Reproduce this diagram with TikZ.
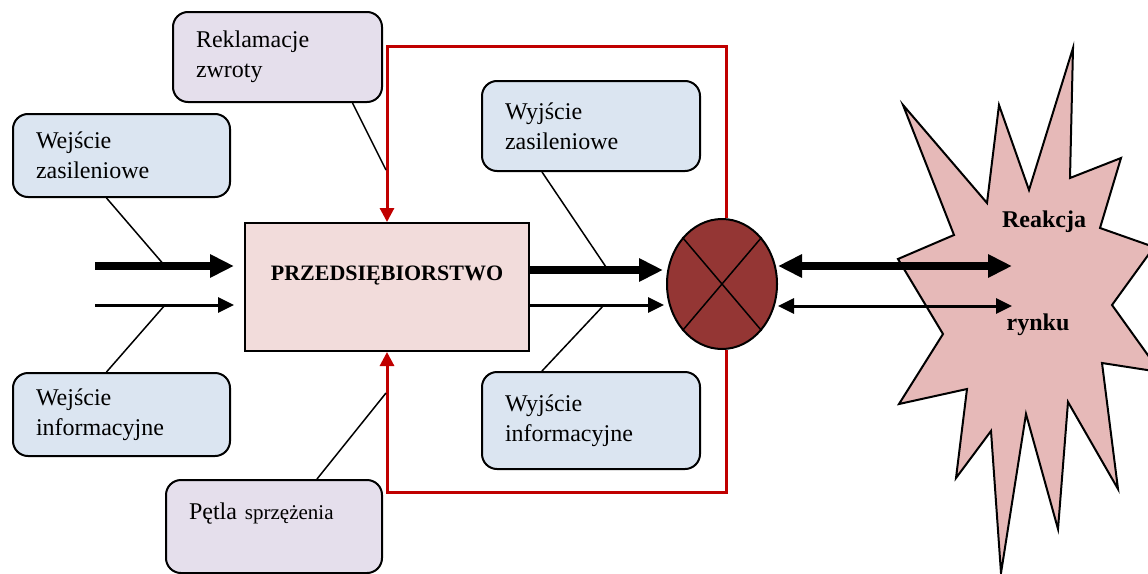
\documentclass[tikz,border=0pt]{standalone}
\usepackage{fontspec}
\setmainfont{Liberation Serif}
\usetikzlibrary{arrows.meta}
\usetikzlibrary{shapes.geometric}

\definecolor{boxblue}{HTML}{DBE5F1}
\definecolor{boxlilac}{HTML}{E5DFEC}
\definecolor{firmpink}{HTML}{F2DCDB}
\definecolor{mixred}{HTML}{943634}
\definecolor{burstpink}{HTML}{E6B9B8}
\definecolor{loopred}{HTML}{C00000}

\tikzset{
        box/.style={draw=black, line width=2pt, rounded corners=15pt, anchor=north west,
                align=left, inner xsep=23pt, inner ysep=0pt, font=\fontsize{24}{30}\selectfont},
        bluebox/.style={box, fill=boxblue},
        lilacbox/.style={box, fill=boxlilac},
        firmbox/.style={draw=black, line width=2pt, fill=firmpink, anchor=north west, inner sep=0pt},
        firmlabel/.style={font=\fontsize{22}{26}\selectfont\bfseries, inner sep=0pt},
        mixer/.style={ellipse, draw=black, line width=2pt, fill=mixred, inner sep=0pt,
                minimum width=110pt, minimum height=130pt},
        cross/.style={line width=1.5pt},
        leader/.style={line width=1.5pt},
        feedback/.style={draw=loopred, line width=3pt, -{Triangle[length=14pt,width=14pt]}},
        thickarr/.style={line width=7.5pt, -{Triangle[length=24pt,width=22pt]}},
        thinarr/.style={line width=3pt, -{Triangle[length=16pt,width=15pt]}},
        thickdbl/.style={line width=7.5pt, {Triangle[length=24pt,width=22pt]}-{Triangle[length=24pt,width=22pt]}},
        thindbl/.style={line width=3pt, {Triangle[length=16pt,width=15pt]}-{Triangle[length=16pt,width=15pt]}},
        burst/.style={draw=black, line width=2pt, fill=burstpink, line join=miter},
        marketlabel/.style={font=\fontsize{24}{28}\selectfont\bfseries, inner sep=0pt}
}

\begin{document}
\begin{tikzpicture}[x=1pt,y=-1pt]

            \useasboundingbox (0,0) rectangle (1148,573);

            % text boxes
            \node[lilacbox, text width=163pt, minimum height=90pt] (rekl) at (172,11) {Reklamacje\\zwroty};
            \node[bluebox, text width=171pt, minimum height=83pt] (wz) at (12,113) {Wejście\\zasileniowe};
            \node[bluebox, text width=171pt, minimum height=83pt] (wi) at (12,372) {Wejście\\informacyjne};
            \node[lilacbox, text width=170pt, minimum height=93pt] (petla) at (165,479)
                    {Pętla {\fontsize{21}{30}\selectfont sprzężenia}\\\mbox{}};
            \node[bluebox, text width=172pt, minimum height=90pt] (wyz) at (481,80) {Wyjście\\zasileniowe};
            \node[bluebox, text width=172pt, minimum height=97pt] (wyi) at (481,371) {Wyjście\\informacyjne};

            \node[firmbox, minimum width=284pt, minimum height=128pt] (firm) at (244,222) {};
            \node[firmlabel] (firmtxt) at ([yshift=11pt]firm.center) {PRZEDSIĘBIORSTWO};

            \node[mixer] (mix) at (722,284) {};
            \draw[cross] (mix.north west) -- (mix.south east);
            \draw[cross] (mix.north east) -- (mix.south west);

            % feedback loop
            \draw[feedback] ([xshift=4pt]mix.north) -- ++(0,-172) -| (firm.north);
            \draw[feedback] ([xshift=4pt]mix.south) -- ++(0,142) -| (firm.south);

            % market
            \draw[burst] (903,105) -- (987,203) -- (999,105) -- (1029,190) -- (1073,48)
                    -- (1070,178) -- (1121,158) -- (1100,228) -- (1154,247) -- (1112,305)
                    -- (1160,372) -- (1102,363) -- (1118,489) -- (1068,402) -- (1058,529)
                    -- (1026,414) -- (1001,573) -- (991,431) -- (956,478) -- (967,389)
                    -- (899,404) -- (943,334) -- (898,259) -- (954,235) -- cycle;
            \node[marketlabel] (reak) at (1044,222) {Reakcja};
            \node[marketlabel] (rynek) at (1038,325) {rynku};

            % flows
            \coordinate (inP) at (95,266);
            \coordinate (inI) at (95,305);
            \coordinate (jwz) at (165,266);
            \coordinate (jwi) at (165,305);
            \coordinate (jyz) at (608,270);
            \coordinate (jyi) at (604,305);
            \coordinate (jrekl) at (386,170);
            \coordinate (jpetla) at (386,393);
            \coordinate (outP) at (1012,266);
            \coordinate (outI) at (1012,306);

            \draw[thickarr, shorten >=10pt] (inP) -- (inP -| firm.west);
            \draw[thinarr, shorten >=10pt] (inI) -- (inI -| firm.west);
            \draw[thickarr, shorten >=3pt] (jyz -| firm.east) -- (jyz -| mix.west);
            \draw[thinarr, shorten >=2pt] (jyi -| firm.east) -- (jyi -| mix.west);
            \draw[thickdbl] (outP -| mix.east) -- (outP);
            \draw[thindbl] (outI -| mix.east) -- (outI);

            % leaders
            \draw[leader] ([xshift=-15pt]wz.south) -- (jwz);
            \draw[leader] ([xshift=-15pt]wi.north) -- (jwi);
            \draw[leader] ([xshift=-49pt]wyz.south) -- (jyz);
            \draw[leader] ([xshift=-49pt]wyi.north) -- (jyi);
            \draw[leader] ([xshift=75pt]rekl.south) -- (jrekl);
            \draw[leader] ([xshift=43pt]petla.north) -- (jpetla);

\end{tikzpicture}
\end{document}
